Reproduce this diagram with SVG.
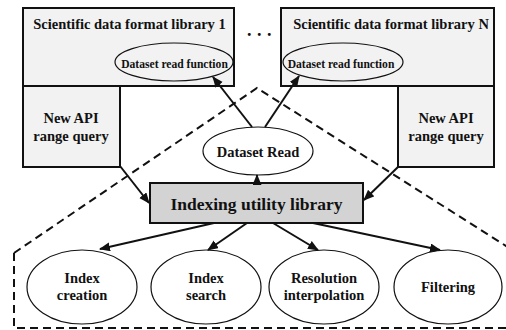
<svg xmlns="http://www.w3.org/2000/svg" width="506" height="330" viewBox="0 0 506 330">
<defs>
<style>
text{font-family:"Liberation Serif","Times New Roman",serif;font-weight:bold;fill:#111;text-anchor:middle}
.box{fill:#f2f2f2;stroke:#111;stroke-width:2}
.idx{fill:#d3d3d3;stroke:#111;stroke-width:2}
.ell{fill:#fff;stroke:#111;stroke-width:1.2}
.ellt{fill:none;stroke:#111;stroke-width:1.2}
.conn{stroke:#111;stroke-width:2;fill:none;marker-end:url(#ah)}
.dash{stroke:#111;stroke-width:2;fill:none;stroke-dasharray:8 5}
.t14{font-size:14.5px}
.t11{font-size:11.6px}
</style>
<marker id="ah" markerUnits="userSpaceOnUse" markerWidth="12" markerHeight="10" refX="10" refY="4.5" orient="auto">
<path d="M0,0 L11,4.5 L0,9 z" fill="#111"/>
</marker>
</defs>
<rect width="506" height="330" fill="#fff"/>
<g id="scope">
<path class="dash" d="M14,253 L257,88 L525,258"/>
<path class="dash" d="M14,253 L14,328 L506,328"/>
</g>
<g id="lib1">
<rect class="box" x="23" y="8" width="211" height="78"/>
<text class="t14" x="129.5" y="29">Scientific data format library 1</text>
</g>
<g id="read1">
<ellipse class="ellt" cx="174" cy="62" rx="59" ry="19"/>
<text class="t11" x="174.5" y="68">Dataset read function</text>
</g>
<g id="dots">
<text x="247" y="36" style="font-size:18px;letter-spacing:5.5px;text-anchor:start">...</text>
</g>
<g id="libN">
<rect class="box" x="281" y="8" width="213" height="78"/>
<text class="t14" x="391" y="29">Scientific data format library N</text>
</g>
<g id="readN">
<ellipse class="ellt" cx="343" cy="62" rx="60" ry="19"/>
<text class="t11" x="341" y="68">Dataset read function</text>
</g>
<g id="api1">
<rect class="box" x="23" y="86" width="97" height="81"/>
<text class="t14" x="71" y="123">New API</text>
<text class="t14" x="71" y="141">range query</text>
</g>
<g id="apiN">
<rect class="box" x="398" y="86" width="96" height="81"/>
<text class="t14" x="446" y="123">New API</text>
<text class="t14" x="446" y="141">range query</text>
</g>
<g id="datasetRead">
<ellipse class="ell" cx="258" cy="151" rx="55" ry="24"/>
<text class="t14" x="258" y="157">Dataset Read</text>
</g>
<g id="indexing">
<rect class="idx" x="150" y="183" width="213" height="40"/>
<text x="256.5" y="210" style="font-size:17.5px">Indexing utility library</text>
</g>
<g id="creation">
<ellipse class="ell" cx="82" cy="287" rx="55" ry="37"/>
<text class="t14" x="82" y="283">Index</text>
<text class="t14" x="82" y="300">creation</text>
</g>
<g id="search">
<ellipse class="ell" cx="206" cy="287" rx="55" ry="37"/>
<text class="t14" x="206" y="283">Index</text>
<text class="t14" x="206" y="300">search</text>
</g>
<g id="resolution">
<ellipse class="ell" cx="324" cy="287" rx="55" ry="37"/>
<text class="t14" x="324" y="283">Resolution</text>
<text class="t14" x="324" y="300">interpolation</text>
</g>
<g id="filtering">
<ellipse class="ell" cx="448" cy="287" rx="54" ry="37"/>
<text class="t14" x="448" y="292">Filtering</text>
</g>
<g id="connectors">
<line class="conn" x1="252" y1="127" x2="213" y2="77"/>
<line class="conn" x1="265" y1="127" x2="299" y2="76"/>
<line class="conn" x1="257" y1="183" x2="257" y2="175"/>
<line class="conn" x1="120" y1="166" x2="149" y2="203"/>
<line class="conn" x1="398" y1="167" x2="364" y2="200"/>
<line class="conn" x1="214" y1="223" x2="100" y2="249"/>
<line class="conn" x1="247" y1="223" x2="208" y2="250"/>
<line class="conn" x1="273" y1="223" x2="318" y2="250"/>
<line class="conn" x1="313" y1="223" x2="440" y2="250"/>
</g>
</svg>
